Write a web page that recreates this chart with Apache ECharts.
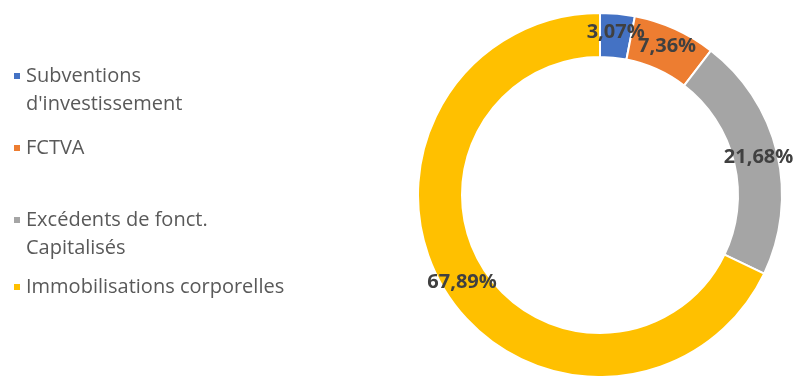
<!DOCTYPE html>
<html><head><meta charset="utf-8">
<script src="https://cdn.jsdelivr.net/npm/echarts@6/dist/echarts.min.js"></script>
<style>html,body{margin:0;padding:0;background:#fff}#c{width:795px;height:376px}</style>
</head><body><div id="c"></div>
<script>
var categories = ["Subventions\nd'investissement", "FCTVA", "Excédents de fonct.\nCapitalisés", "Immobilisations corporelles"];
var values = [3.07, 7.36, 21.68, 67.89];
var colors = ['#4472C4', '#ED7D31', '#A5A5A5', '#FFC000'];
var legendTops = [29, 129, 173, 268];

var chart = echarts.init(document.getElementById('c'));
var LH = 28;
var legends = categories.map(function (name, i) {
  return {
    data: [name],
    left: 7,
    top: legendTops[i],
    orient: 'vertical',
    icon: 'rect',
    itemWidth: 8,
    itemHeight: 8,
    itemGap: 0,
    selectedMode: false,
    formatter: function (n) { return n.indexOf('\n') >= 0 ? '\n' + n : n; },
    textStyle: {
      fontFamily: 'Open Sans',
      fontSize: 20,
      color: '#595959',
      lineHeight: LH
    }
  };
});
chart.setOption({
  animation: false,
  color: colors,
  legend: legends,
  series: [{
    type: 'pie',
    center: [600, 195],
    radius: [138, 182],
    startAngle: 90,
    clockwise: true,
    avoidLabelOverlap: false,
    labelLayout: { hideOverlap: false },
    itemStyle: { borderColor: '#fff', borderWidth: 2 },
    label: {
      show: true,
      position: 'inside',
      fontFamily: 'Open Sans',
      fontSize: 20,
      fontWeight: 'bold',
      color: '#404040',
      formatter: function (p) { return p.value.toFixed(2).replace('.', ',') + '%'; }
    },
    emphasis: { disabled: true },
    data: categories.map(function (n, i) { return { name: n, value: values[i] }; })
  }]
});
</script></body></html>
